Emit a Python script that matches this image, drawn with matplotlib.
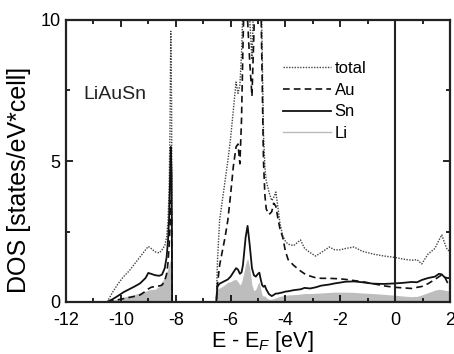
import matplotlib
matplotlib.use("Agg")
import matplotlib.pyplot as plt
from matplotlib.lines import Line2D
import numpy as np

plt.rcParams['font.family'] = ['Liberation Sans', 'DejaVu Sans']
plt.rcParams['mathtext.fontset'] = 'custom'
plt.rcParams['mathtext.rm'] = 'Liberation Sans'
plt.rcParams['mathtext.it'] = 'Liberation Sans:italic'

# ---- data: lower band ----
E_low = [-10.5, -10.3, -10.1, -9.9, -9.7, -9.5, -9.3, -9.1, -9.0, -8.9, -8.75,
         -8.6, -8.5, -8.4, -8.33, -8.28, -8.24, -8.21, -8.18, -8.15, -8.13]
total_low = [0, 0.35, 0.65, 0.9, 1.1, 1.35, 1.6, 1.85, 1.97, 1.9, 1.78,
             1.74, 1.85, 2.0, 2.3, 2.9, 4.0, 6.0, 9.6, 7.0, 0]
Au_low = [0, 0.04, 0.08, 0.12, 0.16, 0.2, 0.25, 0.38, 0.46, 0.52, 0.55,
          0.57, 0.6, 0.75, 1.0, 1.4, 2.0, 2.8, 3.6, 3.0, 0]
Sn_low = [0, 0.1, 0.22, 0.35, 0.45, 0.55, 0.66, 0.85, 1.03, 1.0, 0.95,
          0.93, 0.97, 1.2, 1.6, 2.2, 3.0, 4.2, 5.5, 4.5, 0]
Li_low = [0, 0.06, 0.12, 0.17, 0.22, 0.27, 0.32, 0.38, 0.42, 0.44, 0.45,
          0.55, 0.7, 0.9, 1.05, 1.2, 1.35, 1.45, 1.5, 1.4, 0]

# ---- data: upper band ----
E_up = [-6.52, -6.48, -6.4, -6.3, -6.2, -6.1, -6.0, -5.9, -5.8, -5.73, -5.66,
        -5.6, -5.55, -5.5, -5.45, -5.38, -5.3, -5.22, -5.15, -5.08, -5.0,
        -4.95, -4.9, -4.85, -4.8, -4.75, -4.7, -4.6, -4.5, -4.43, -4.35,
        -4.28, -4.2, -4.1, -4.0, -3.9, -3.7, -3.45, -3.3, -3.1, -2.9, -2.7,
        -2.4, -2.2, -2.0, -1.8, -1.5, -1.2, -0.8, -0.4, 0.0, 0.3, 0.6, 0.8,
        0.97, 1.2, 1.45, 1.6, 1.7, 1.8, 1.9, 2.0]
total_up = [0, 1.4, 2.9, 3.6, 4.3, 5.0, 5.8, 6.8, 7.8, 7.4, 7.7,
            8.8, 10.5, 13, 14, 12, 10, 8.6, 11, 13, 15,
            14, 12, 9, 6, 4.8, 4.3, 3.9, 3.6, 3.7, 3.9,
            3.4, 2.8, 2.35, 2.15, 2.05, 2.0, 2.2, 1.9, 1.75, 1.63, 1.75,
            1.95, 1.85, 1.85, 1.9, 1.95, 1.8, 1.7, 1.63, 1.58, 1.52, 1.48, 1.5,
            1.35, 1.7, 1.9, 2.2, 2.38, 2.1, 1.85, 1.8]
Au_up = [0, 0.6, 1.3, 1.8, 2.3, 2.9, 3.8, 4.8, 5.5, 5.6, 4.9,
         6.5, 9, 11, 12, 10, 8.5, 7.3, 9.5, 12, 14,
         13, 11, 8, 5, 3.8, 3.3, 3.1, 3.2, 3.5, 3.4,
         3.0, 2.6, 2.3, 1.8, 1.5, 1.3, 1.1, 1.0, 0.92, 0.86, 0.84,
         0.84, 0.83, 0.82, 0.8, 0.76, 0.72, 0.65, 0.57, 0.52, 0.5, 0.48, 0.52,
         0.55, 0.65, 0.8, 0.9, 0.96, 0.9, 0.7, 0.6]
Sn_up = [0, 0.55, 0.65, 0.7, 0.75, 0.8, 0.9, 1.05, 1.2, 1.15, 1.0,
         1.05, 1.3, 1.8, 2.3, 2.7, 2.0, 1.2, 0.95, 0.9, 1.0,
         1.04, 0.8, 0.6, 0.54, 0.58, 0.45, 0.28, 0.21, 0.25, 0.3,
         0.3, 0.32, 0.34, 0.37, 0.38, 0.42, 0.45, 0.5, 0.48, 0.52, 0.58,
         0.62, 0.66, 0.69, 0.72, 0.73, 0.7, 0.65, 0.64, 0.66, 0.68, 0.71, 0.7,
         0.78, 0.85, 0.9, 1.0, 0.98, 0.88, 0.85, 0.85]
Li_up = [0, 0.45, 0.5, 0.55, 0.62, 0.7, 0.72, 0.78, 0.8, 0.72, 0.6,
         0.7, 0.9, 1.1, 1.35, 1.55, 1.2, 0.6, 0.4, 0.45, 0.65,
         0.7, 0.45, 0.25, 0.2, 0.22, 0.15, 0.1, 0.1, 0.12, 0.15,
         0.17, 0.2, 0.22, 0.24, 0.25, 0.26, 0.28, 0.3, 0.3, 0.31, 0.32,
         0.34, 0.35, 0.35, 0.35, 0.34, 0.32, 0.3, 0.27, 0.24, 0.21, 0.19, 0.2,
         0.25, 0.33, 0.42, 0.45, 0.44, 0.42, 0.4, 0.4]

x_ticks = [-12, -10, -8, -6, -4, -2, 0, 2]
x_ticklabels = ['-12', '-10', '-8', '-6', '-4', '-2', '0', '2']
y_ticks = [0, 5, 10]

E = np.array(E_low + E_up)
total = np.array(total_low + total_up)
Au = np.array(Au_low + Au_up)
Sn = np.array(Sn_low + Sn_up)
Li = np.array(Li_low + Li_up)

fig = plt.figure(figsize=(4.54, 3.54), dpi=100)
ax = fig.add_axes([66/454, 1-302/354, (450-66)/454, (302-20)/354])

ax.fill_between(E, 0, Li, color='#bdbdbd', lw=0)
ax.plot(E, total, color='#444444', lw=1.0, ls=(0, (1, 1)))
ax.plot(E, Au, color='#111111', lw=1.2, ls=(0, (4, 2.5)))
ax.plot(E, Sn, color='#111111', lw=1.3)
ax.axvline(0, color='#222222', lw=1.5)

ax.set_xlim(-12, 2)
ax.set_ylim(0, 10)
ax.set_xticks(x_ticks)
ax.set_xticklabels(x_ticklabels)
ax.set_xticks(np.arange(-11, 2, 2), minor=True)
ax.set_yticks(y_ticks)
ax.set_yticks([2.5, 7.5], minor=True)
ax.tick_params(which='both', direction='in', top=True, right=True,
               labelsize=13, width=1.2)
ax.tick_params(axis='x', which='both', pad=7)
ax.tick_params(axis='y', which='both', pad=4)
ax.tick_params(which='major', length=5)
ax.tick_params(which='minor', length=3)
for s in ax.spines.values():
    s.set_linewidth(1.6)
    s.set_color('#222222')

ax.set_xlabel(r'E - E$_{\it F}$ [eV]', fontsize=15.5, va='center')
ax.xaxis.set_label_coords(0.512, -0.14)
ax.set_ylabel('DOS [states/eV*cell]', fontsize=18, va='center')
ax.yaxis.set_label_coords(-0.122, 0.433)

ax.text(0.045, 0.735, 'LiAuSn', transform=ax.transAxes, fontsize=14,
        ha='left', va='center', color='#222222')

handles = [Line2D([], [], color='#444444', lw=1.0, ls=(0, (1, 1))),
           Line2D([], [], color='#111111', lw=1.2, ls=(0, (4, 2.5))),
           Line2D([], [], color='#111111', lw=1.3),
           Line2D([], [], color='#bbbbbb', lw=1.0)]
labels = ['total', 'Au', 'Sn', 'Li']
leg = ax.legend(handles, labels, loc='upper left',
                bbox_to_anchor=((283-66)/384, 1-(61-20)/282),
                frameon=False, fontsize=12, handlelength=2.9,
                handletextpad=0.2, labelspacing=0.4, borderpad=0,
                borderaxespad=0)

fig.savefig('out.png', dpi=100)
